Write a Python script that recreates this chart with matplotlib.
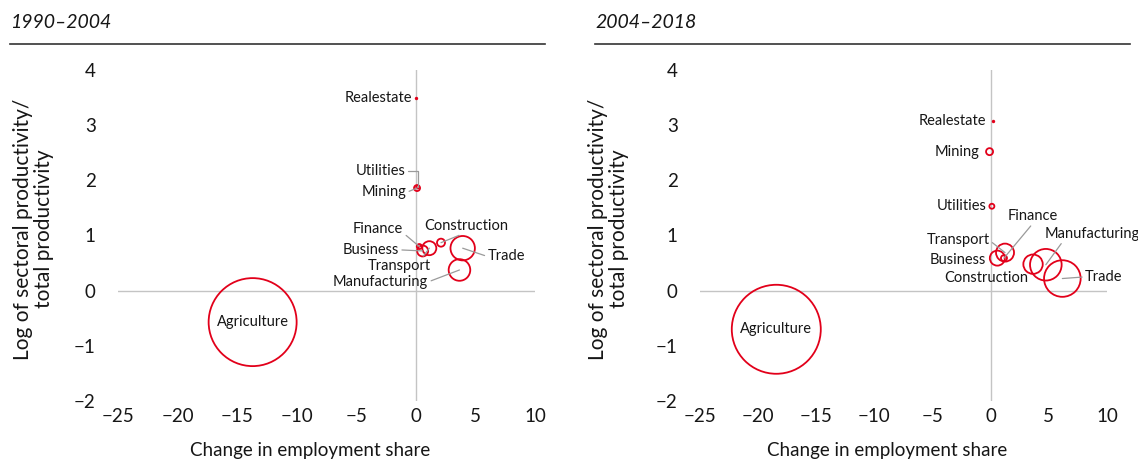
import matplotlib
matplotlib.use("Agg")
import matplotlib.pyplot as plt
from matplotlib.lines import Line2D

plt.rcParams["font.family"] = ["Lato", "DejaVu Sans"]

RED = "#e2001a"
GREY_LINE = "#c4c4c4"
LEADER = "#9a9a9a"
TXT = "#161616"

sectors = ["Realestate", "Utilities", "Mining", "Finance", "Business",
           "Transport", "Construction", "Trade", "Manufacturing", "Agriculture"]

# 1990-2004
x_9004 = [0.0, 0.15, 0.1, 0.29, 0.57, 1.13, 2.11, 3.93, 3.66, -13.7]
y_9004 = [3.50, 1.88, 1.86, 0.80, 0.72, 0.77, 0.87, 0.77, 0.375, -0.57]
size_9004 = [1.2, 1.5, 3.0, 2.5, 5.5, 7.0, 4.0, 12.2, 10.8, 44.0]

# 2004-2018
x_0418 = [0.17, 0.1, -0.1, 1.14, 0.57, 1.23, 3.64, 6.16, 4.74, -18.44]
y_0418 = [3.07, 1.53, 2.52, 0.59, 0.59, 0.69, 0.48, 0.22, 0.47, -0.70]
size_0418 = [1.2, 2.5, 3.5, 3.0, 7.5, 9.0, 9.7, 18.3, 15.8, 44.5]

xticks = [-25, -20, -15, -10, -5, 0, 5, 10]
yticks = [-2, -1, 0, 1, 2, 3, 4]

# label placement: (text x, text y, ha, va, leader?, relpos, connectionstyle)
labels_9004 = {
    "Realestate": (-0.3, 3.50, "right", "center", False, None, None),
    "Utilities": (-0.9, 2.17, "right", "center", True, (1, 0.5), "angle,angleA=0,angleB=90,rad=0"),
    "Mining": (-0.8, 1.78, "right", "center", True, (1, 0.5), None),
    "Finance": (-1.05, 1.12, "right", "center", True, (1, 0.2), None),
    "Business": (-1.4, 0.74, "right", "center", True, (1, 0.5), None),
    "Transport": (-1.4, 0.45, "center", "center", True, (0.85, 1), None),
    "Construction": (4.2, 1.18, "center", "center", True, (0.5, 0), None),
    "Trade": (6.0, 0.62, "left", "center", True, (0, 0.5), None),
    "Manufacturing": (1.05, 0.16, "right", "center", True, (1, 0.5), None),
    "Agriculture": (None, None, "center", "center", False, None, None),
}
labels_0418 = {
    "Realestate": (-0.4, 3.07, "right", "center", False, None, None),
    "Utilities": (-0.35, 1.53, "right", "center", False, None, None),
    "Mining": (-1.0, 2.52, "right", "center", False, None, None),
    "Finance": (3.64, 1.35, "center", "center", True, (0.5, 0), None),
    "Business": (-0.4, 0.56, "right", "center", False, None, None),
    "Transport": (-0.1, 0.91, "right", "center", True, (1, 0.5), None),
    "Construction": (-0.4, 0.23, "center", "center", False, None, None),
    "Trade": (8.1, 0.25, "left", "center", True, (0, 0.5), None),
    "Manufacturing": (4.6, 1.03, "left", "center", True, (0.2, 0), None),
    "Agriculture": (None, None, "center", "center", False, None, None),
}

fig = plt.figure(figsize=(11.38, 4.61), dpi=100)
W, H = 1138, 461
ax1 = fig.add_axes([118 / W, 1 - 401 / H, 417 / W, 331 / H])
ax2 = fig.add_axes([700 / W, 1 - 401 / H, 407 / W, 331 / H])


def draw(ax, xs, ys, sz, labels):
    ax.axhline(0, color=GREY_LINE, lw=1, zorder=0)
    ax.axvline(0, color=GREY_LINE, lw=1, zorder=0)
    for name, x, y, r in zip(sectors, xs, ys, sz):
        s = (2 * r * 0.72) ** 2
        if r < 1.4:
            ax.scatter([x], [y], s=s * 2, color=RED, lw=0, zorder=3)
        else:
            ax.scatter([x], [y], s=s, facecolor="none", edgecolor=RED,
                       lw=1.3, zorder=3)
        tx, ty, ha, va, lead, rp, cs = labels[name]
        if tx is None:
            ax.text(x, y, name, ha="center", va="center", fontsize=10.5, color=TXT)
            continue
        props = None
        if lead:
            props = dict(arrowstyle="-", color=LEADER, lw=0.9, shrinkA=0,
                         shrinkB=0, relpos=rp,
                         connectionstyle=cs or "arc3")
        ax.annotate(name, (x, y), xytext=(tx, ty), ha=ha, va=va,
                    fontsize=10.5, color=TXT, arrowprops=props,
                    annotation_clip=False, zorder=4)
    ax.set_xlim(-25, 10)
    ax.set_ylim(-2, 4)
    ax.set_xticks(xticks)
    ax.set_yticks(yticks)
    for sp in ax.spines.values():
        sp.set_visible(False)
    ax.tick_params(length=0, labelsize=13.5, colors=TXT)
    ax.tick_params(axis="y", pad=16)
    ax.tick_params(axis="x", pad=5)
    ax.set_xlabel("Change in employment share", fontsize=13.5, color=TXT)
    ax.xaxis.set_label_coords(0.46, -0.125)


draw(ax1, x_9004, y_9004, size_9004, labels_9004)
draw(ax2, x_0418, y_0418, size_0418, labels_0418)

ylab = "Log of sectoral productivity/\ntotal productivity"
for x0 in (33.5, 608.5):
    fig.text(x0 / W, 1 - 229 / H, ylab, rotation=90, ha="center", va="center",
             multialignment="center", fontsize=15, color=TXT, linespacing=1.05)

for x0, x1, title in ((10, 545, "1990\u20132004"), (595, 1130, "2004\u20132018")):
    fig.text(x0 / W, 1 - 22 / H, title, ha="left", va="center",
             fontsize=14, style="italic", color=TXT)
    fig.add_artist(Line2D([x0 / W, x1 / W], [1 - 44 / H, 1 - 44 / H],
                          color="#333333", lw=1.2))

fig.savefig("out.png", dpi=100)
